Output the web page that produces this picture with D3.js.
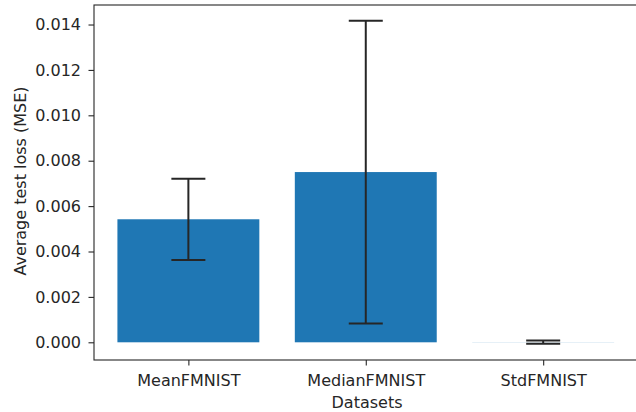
<!DOCTYPE html>
<html>
<head>
<meta charset="utf-8">
<script src="https://cdn.jsdelivr.net/npm/d3@7"></script>
<style>
  html, body { margin: 0; padding: 0; background: #fff; }
  svg { display: block; }
  text { font-family: "DejaVu Sans", sans-serif; }
</style>
</head>
<body>
<svg id="chart" width="636" height="412"></svg>
<script>
const categories = ["MeanFMNIST", "MedianFMNIST", "StdFMNIST"];
const values = [0.00542, 0.00750, 0.000005];
const errors = [0.00179, 0.00667, 0.00007];
const yTicks = [0, 0.002, 0.004, 0.006, 0.008, 0.010, 0.012, 0.014];
const xLabel = "Datasets";
const yLabel = "Average test loss (MSE)";

(function () {
const pLeft = 94, pTop = 5, pBottom = 360;
const pxPerUnit = 177.4;
const svg = d3.select("#chart");

const x = d3.scaleLinear().domain([-0.532, 2.532]).range([pLeft, pLeft + 3.064 * pxPerUnit]);
const y = d3.scaleLinear().domain([-0.00078, 0.01486]).range([pBottom, pTop]);
const barW = 0.8;
const fs = 16;
const ink = "#262626";

// bars
svg.append("g").selectAll("rect").data(values).join("rect")
  .attr("x", (d, i) => x(i - barW / 2))
  .attr("width", x(barW) - x(0))
  .attr("y", d => Math.min(y(d), y(0)))
  .attr("height", d => Math.abs(y(0) - y(d)))
  .attr("fill", "#1f77b4");

// error bars
const cap = 17;
const eg = svg.append("g").attr("stroke", "#262626").attr("stroke-width", 2).attr("fill", "none");
values.forEach((v, i) => {
  const cx = x(i), lo = y(v - errors[i]), hi = y(v + errors[i]);
  eg.append("line").attr("x1", cx).attr("x2", cx).attr("y1", lo).attr("y2", hi);
  eg.append("line").attr("x1", cx - cap).attr("x2", cx + cap).attr("y1", lo).attr("y2", lo);
  eg.append("line").attr("x1", cx - cap).attr("x2", cx + cap).attr("y1", hi).attr("y2", hi);
});

// axes
const yAxis = d3.axisLeft(y).tickValues(yTicks).tickFormat(d3.format(".3f")).tickSize(5.5).tickPadding(7.5);
const gy = svg.append("g").attr("transform", `translate(${pLeft},0)`).call(yAxis);
const xAxis = d3.axisBottom(x).tickValues(d3.range(categories.length)).tickFormat(i => categories[i]).tickSize(5.5).tickPadding(6);
const gx = svg.append("g").attr("transform", `translate(0,${pBottom})`).call(xAxis);
[gx, gy].forEach(g => {
  g.select(".domain").remove();
  g.selectAll(".tick line").attr("stroke", ink).attr("stroke-width", 1.1);
  g.selectAll(".tick text").attr("fill", ink).style("font-size", fs + "px").style("font-family", "DejaVu Sans");
});
gx.selectAll(".tick text").attr("dy", null).attr("y", 25.5);

// spines
const pRight = x(2.532);
svg.append("rect").attr("x", pLeft).attr("y", pTop).attr("width", pRight - pLeft).attr("height", pBottom - pTop)
  .attr("fill", "none").attr("stroke", ink).attr("stroke-width", 1.1);

// labels
svg.append("text").attr("x", 367).attr("y", 408)
  .attr("text-anchor", "middle").attr("fill", ink).style("font-size", fs + "px").text(xLabel);
svg.append("text").attr("transform", `translate(25.5,181) rotate(-90)`)
  .attr("text-anchor", "middle").attr("fill", ink).style("font-size", fs + "px").text(yLabel);
})();
</script>
</body>
</html>
